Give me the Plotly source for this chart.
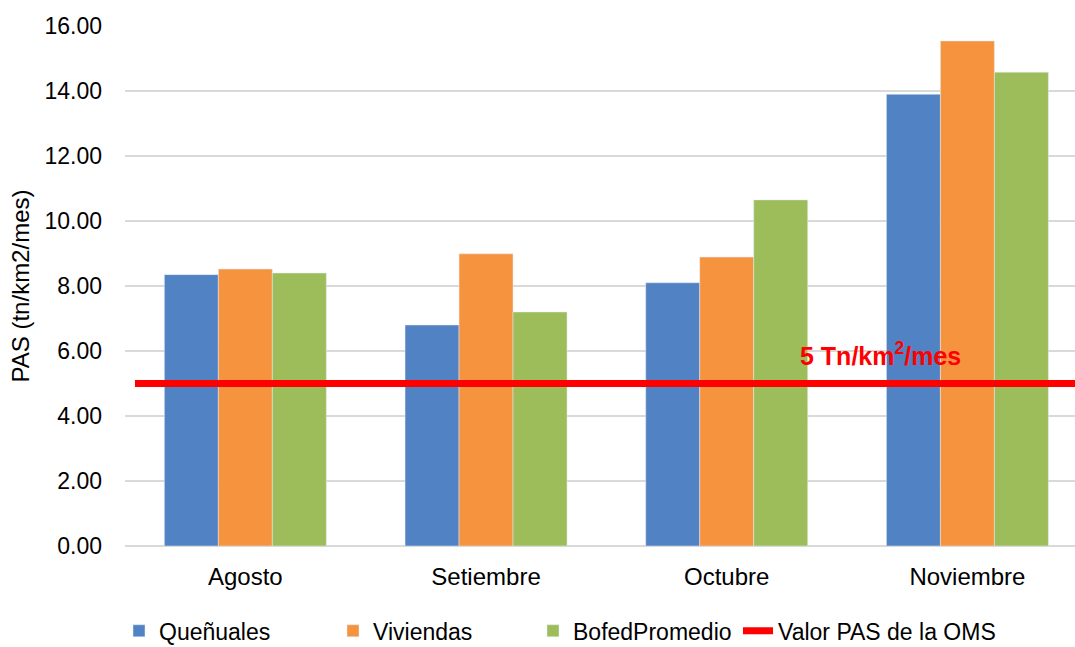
import plotly.graph_objects as go

categories = ["Agosto", "Setiembre", "Octubre", "Noviembre"]
quenuales = [8.35, 6.80, 8.10, 13.90]
viviendas = [8.52, 8.99, 8.89, 15.54]
bofed = [8.40, 7.20, 10.65, 14.58]
oms_value = 5.0
y_ticks = [0, 2, 4, 6, 8, 10, 12, 14, 16]

FONT = "Liberation Sans, Arial, sans-serif"

fig = go.Figure()
fig.add_trace(go.Bar(name="Queñuales", x=categories, y=quenuales, marker_color="#5182c4", legend="legend"))
fig.add_trace(go.Bar(name="Viviendas", x=categories, y=viviendas, marker_color="#f6933f", legend="legend2"))
fig.add_trace(go.Bar(name="BofedPromedio", x=categories, y=bofed, marker_color="#9cbd5a", legend="legend3"))
fig.add_trace(go.Scatter(name="Valor PAS de la OMS", x=[None], y=[None], mode="lines",
                         line=dict(color="#ff0000", width=7), legend="legend4"))

fig.add_shape(type="line", xref="paper", yref="y", x0=0.0105, x1=1.0, y0=oms_value, y1=oms_value,
              line=dict(color="#ff0000", width=7), layer="above")
fig.add_annotation(xref="paper", yref="y", x=0.795, y=5.92, xanchor="center", yanchor="middle",
                   text="<b>5 Tn/km<sup>2</sup>/mes</b>", showarrow=False,
                   font=dict(family=FONT, size=25, color="#ff0000"))


def leg(xpix, iw=30):
    return dict(orientation="h", xref="container", x=xpix / 1075, xanchor="left",
                yref="container", y=0.025, yanchor="middle", bgcolor="rgba(0,0,0,0)",
                font=dict(family=FONT, size=23, color="#000000"), itemwidth=iw)


fig.update_layout(
    width=1075, height=647,
    margin=dict(l=125, r=0, t=26, b=101),
    paper_bgcolor="white", plot_bgcolor="white",
    barmode="group", bargap=0.327, bargroupgap=0,
    font=dict(family=FONT, size=23, color="#000000"),
    showlegend=True,
    legend=leg(119), legend2=leg(333), legend3=leg(533), legend4=leg(738),
    xaxis=dict(range=[-0.5, 3.447], showgrid=False, showline=False, ticks="",
               ticklabelstandoff=14, tickfont=dict(size=24)),
    yaxis=dict(range=[0, 16], tickvals=y_ticks, ticktext=[f"{v:.2f}" for v in y_ticks],
               showgrid=True, gridcolor="#d9d9d9", gridwidth=1.5,
               zeroline=True, zerolinecolor="#d9d9d9", zerolinewidth=1.5,
               ticks="", ticklabelstandoff=22, tickfont=dict(size=23),
               title=dict(text="PAS (tn/km2/mes)", font=dict(size=24), standoff=8)),
)

fig.write_html("out.html", config={"displayModeBar": False},
               post_script="document.body.style.margin='0';")
